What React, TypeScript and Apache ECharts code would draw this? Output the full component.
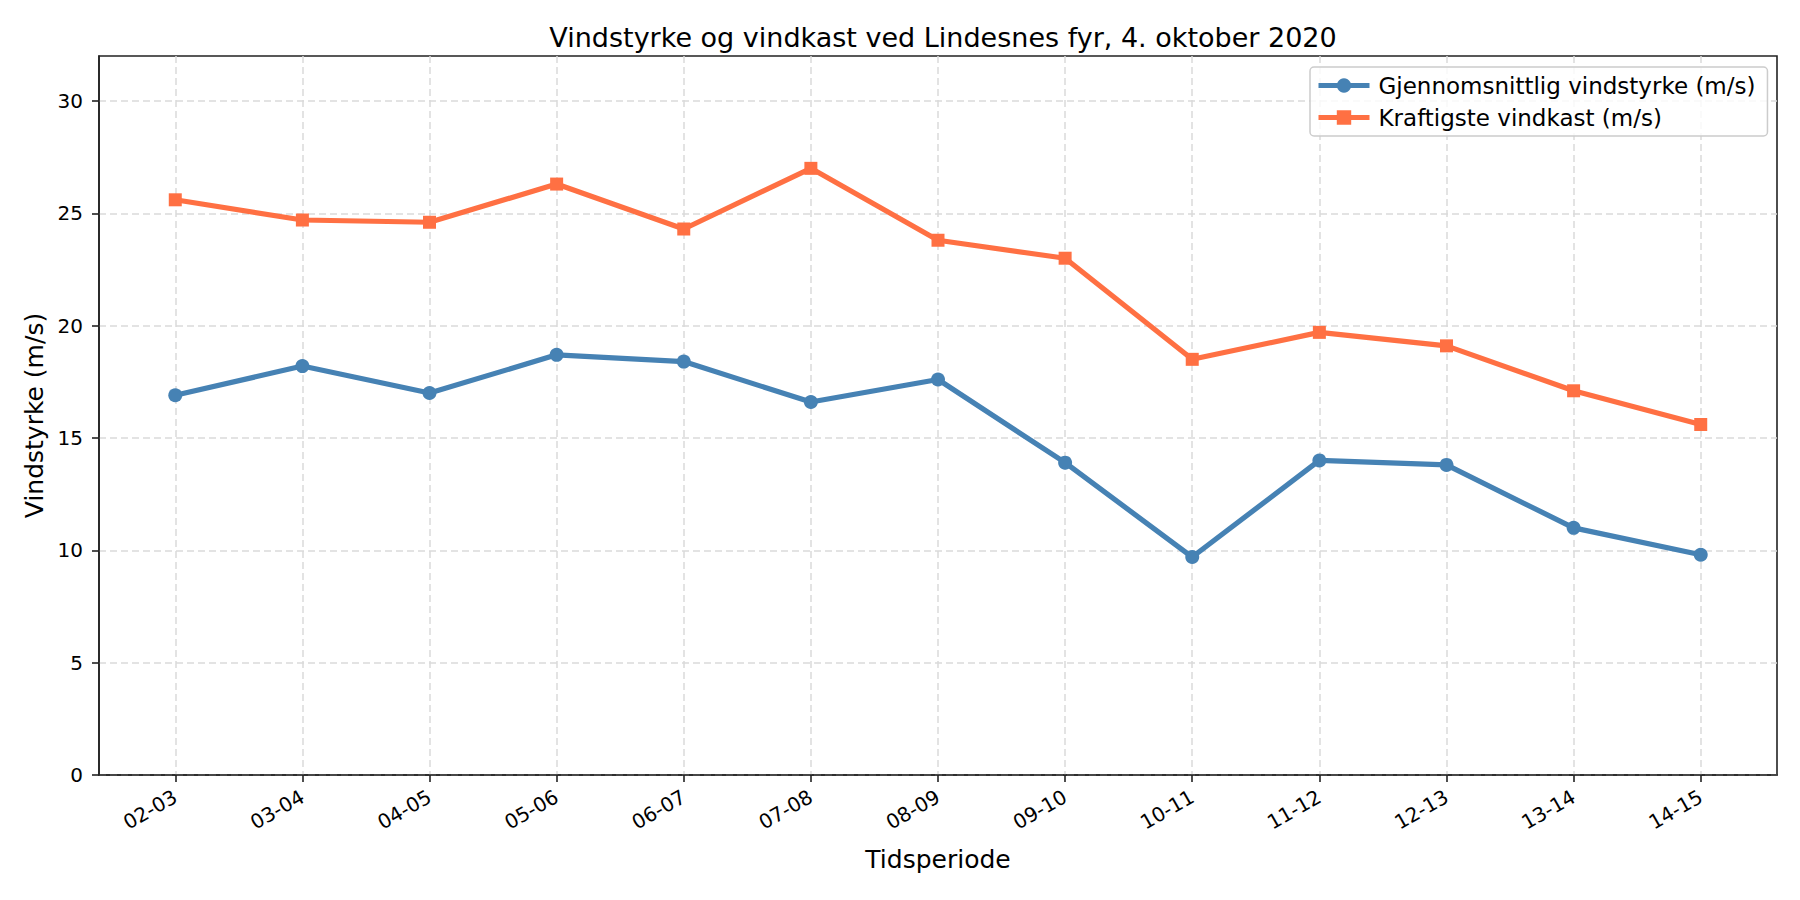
import React, { useEffect, useRef } from "react";
import * as echarts from "echarts";

const categories = ["02-03", "03-04", "04-05", "05-06", "06-07", "07-08", "08-09", "09-10", "10-11", "11-12", "12-13", "13-14", "14-15"];
const meanWind = [16.9, 18.2, 17.0, 18.7, 18.4, 16.6, 17.6, 13.9, 9.7, 14.0, 13.8, 11.0, 9.8];
const gustWind = [25.6, 24.7, 24.6, 26.3, 24.3, 27.0, 23.8, 23.0, 18.5, 19.7, 19.1, 17.1, 15.6];
const yTicks = [0, 5, 10, 15, 20, 25, 30];

const FONT = "DejaVu Sans";
const BLUE = "#4682B4";
const ORANGE = "#FF7043";

export default function App() {
  const ref = useRef<HTMLDivElement>(null);
  useEffect(() => {
    if (!ref.current) return;
    const chart = echarts.init(ref.current, null, { renderer: "svg" });
    const xIdx = categories.map((_, i) => i);
    chart.setOption({
      animation: false,
      backgroundColor: "#ffffff",
      textStyle: { fontFamily: FONT },
      title: {
        text: "Vindstyrke og vindkast ved Lindesnes fyr, 4. oktober 2020",
        left: 938,
        top: 19,
        textAlign: "center",
        textStyle: { fontFamily: FONT, fontSize: 27, fontWeight: "normal", color: "#000" },
      },
      legend: {
        orient: "vertical",
        left: 1310,
        top: 67,
        padding: [7, 12, 7, 6],
        itemGap: 9,
        itemWidth: 51,
        itemHeight: 18,
        borderColor: "#cccccc",
        borderWidth: 1.5,
        borderRadius: 4,
        backgroundColor: "rgba(255,255,255,0.8)",
        lineStyle: { width: 5 },
        textStyle: { fontFamily: FONT, fontSize: 23, color: "#000", padding: [0, 0, 0, 4] },
        data: ["Gjennomsnittlig vindstyrke (m/s)", "Kraftigste vindkast (m/s)"],
      },
      grid: {
        left: 99,
        right: 23,
        top: 56,
        bottom: 125,
        show: true,
        borderColor: "#222",
        borderWidth: 1.6,
        backgroundColor: "transparent",
      },
      xAxis: {
        type: "value",
        min: -0.6,
        max: 12.6,
        name: "Tidsperiode",
        nameLocation: "middle",
        nameGap: 72,
        nameTextStyle: { fontFamily: FONT, fontSize: 25, color: "#000" },
        axisLine: { show: true, onZero: false, lineStyle: { color: "#222", width: 1.6 } },
        axisTick: { show: true, length: 7, customValues: xIdx, lineStyle: { color: "#222", width: 1.6 } },
        axisLabel: {
          customValues: xIdx,
          rotate: 30,
          margin: 20,
          fontFamily: FONT,
          fontSize: 20,
          color: "#000",
          formatter: (v: number) => categories[Math.round(v)] ?? "",
        },
        splitLine: { show: true, lineStyle: { color: "#dadada", type: [7, 4], width: 1.5 } },
      },
      yAxis: {
        type: "value",
        min: 0,
        max: 32,
        interval: 5,
        name: "Vindstyrke (m/s)",
        nameLocation: "middle",
        nameGap: 52,
        nameTextStyle: { fontFamily: FONT, fontSize: 25, color: "#000" },
        axisLine: { show: true, onZero: false, lineStyle: { color: "#222", width: 1.6 } },
        axisTick: { show: true, length: 7, customValues: yTicks, lineStyle: { color: "#222", width: 1.6 } },
        axisLabel: { customValues: yTicks, margin: 16, fontFamily: FONT, fontSize: 20, color: "#000" },
        splitLine: { show: true, lineStyle: { color: "#dadada", type: [7, 4], width: 1.5 } },
      },
      series: [
        {
          name: "Gjennomsnittlig vindstyrke (m/s)",
          type: "line",
          data: meanWind.map((v, i) => [i, v]),
          symbol: "circle",
          symbolSize: 14,
          lineStyle: { color: BLUE, width: 5.2 },
          itemStyle: { color: BLUE },
          z: 3,
        },
        {
          name: "Kraftigste vindkast (m/s)",
          type: "line",
          data: gustWind.map((v, i) => [i, v]),
          symbol: "rect",
          symbolSize: 13,
          lineStyle: { color: ORANGE, width: 5.2 },
          itemStyle: { color: ORANGE },
          z: 3,
        },
      ],
    });
    return () => chart.dispose();
  }, []);
  return <div ref={ref} style={{ position: "fixed", left: 0, top: 0, width: 1800, height: 900 }} />;
}
